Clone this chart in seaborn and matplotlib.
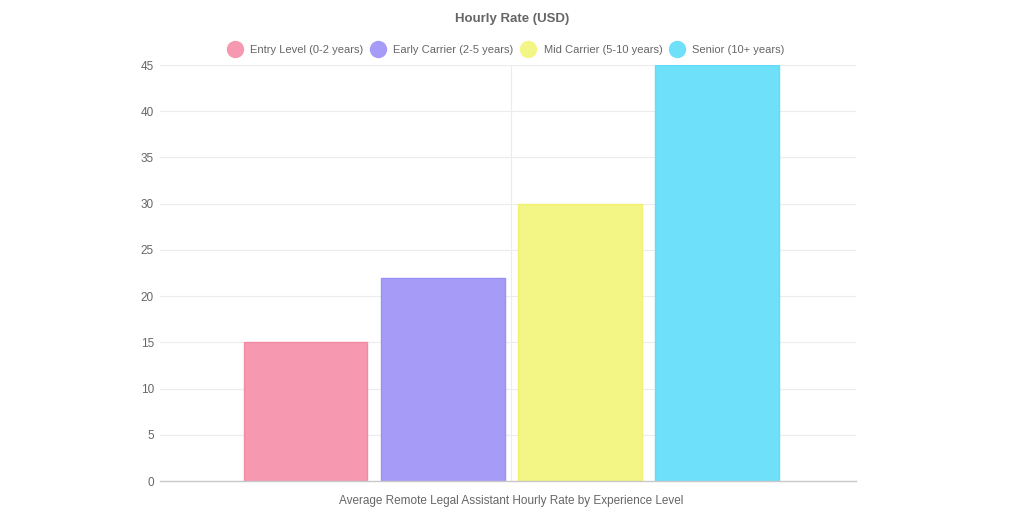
import pandas as pd
import matplotlib
matplotlib.use("Agg")
import matplotlib.pyplot as plt
from matplotlib.lines import Line2D
import seaborn as sns

# Data
category = "Average Remote Legal Assistant Hourly Rate by Experience Level"
levels = ["Entry Level (0-2 years)", "Early Carrier (2-5 years)",
          "Mid Carrier (5-10 years)", "Senior (10+ years)"]
rates = [15, 22, 30, 45]
colors = ["#f598b0", "#a69cf8", "#f3f584", "#6fe0f9"]
edge_colors = ["#f58aa5", "#9a8ff7", "#f0f270", "#62dcf8"]
y_ticks = [0, 5, 10, 15, 20, 25, 30, 35, 40, 45]

sns.set_theme(style="white")
plt.rcParams['font.family'] = ['Liberation Sans', 'DejaVu Sans']

df = pd.DataFrame({"category": [category] * len(levels), "level": levels, "rate": rates})

fig = plt.figure(figsize=(10.24, 5.12), dpi=100)
ax = fig.add_axes([0.1563, 0.0605, 0.6797, 0.8125])

sns.barplot(data=df, x="category", y="rate", hue="level", hue_order=levels,
            palette=colors, width=0.82, gap=0.1, saturation=1, legend=False, ax=ax)
for patch, ec in zip(ax.patches, edge_colors):
    patch.set_edgecolor(ec)
    patch.set_linewidth(1)

ax.set_xlim(-0.525, 0.515)
ax.set_ylim(0, 45)
ax.set_yticks(y_ticks)
ax.set_yticklabels([str(t) for t in y_ticks])
ax.set_xlabel("")
ax.set_ylabel("")

# Grid lines like the reference
for t in y_ticks[1:]:
    ax.axhline(t, color="#ececec", linewidth=0.8, zorder=0)
ax.axvline(0, color="#ececec", linewidth=0.8, zorder=0)

for side in ["top", "right", "left"]:
    ax.spines[side].set_visible(False)
ax.spines["bottom"].set_color("#c8c8c8")
ax.spines["bottom"].set_linewidth(1)

ax.tick_params(axis="y", length=0, pad=4.5, labelsize=8.5, labelcolor="#666666")
ax.tick_params(axis="x", length=0, pad=10, labelsize=8.5, labelcolor="#666666")

fig.text(0.5, 0.963, "Hourly Rate (USD)", ha="center", va="center",
         fontsize=9.5, fontweight="bold", color="#666666")

handles = [Line2D([0], [0], marker="o", linestyle="", markersize=11.5,
                  markerfacecolor=c, markeredgecolor=c) for c in colors]
fig.legend(handles, levels, loc="center", bbox_to_anchor=(0.494, 0.902), ncol=4,
           frameon=False, fontsize=8, labelcolor="#666666",
           handletextpad=0.7, columnspacing=0.6, handlelength=1.4)

fig.savefig("out.png", dpi=100, facecolor="white")
